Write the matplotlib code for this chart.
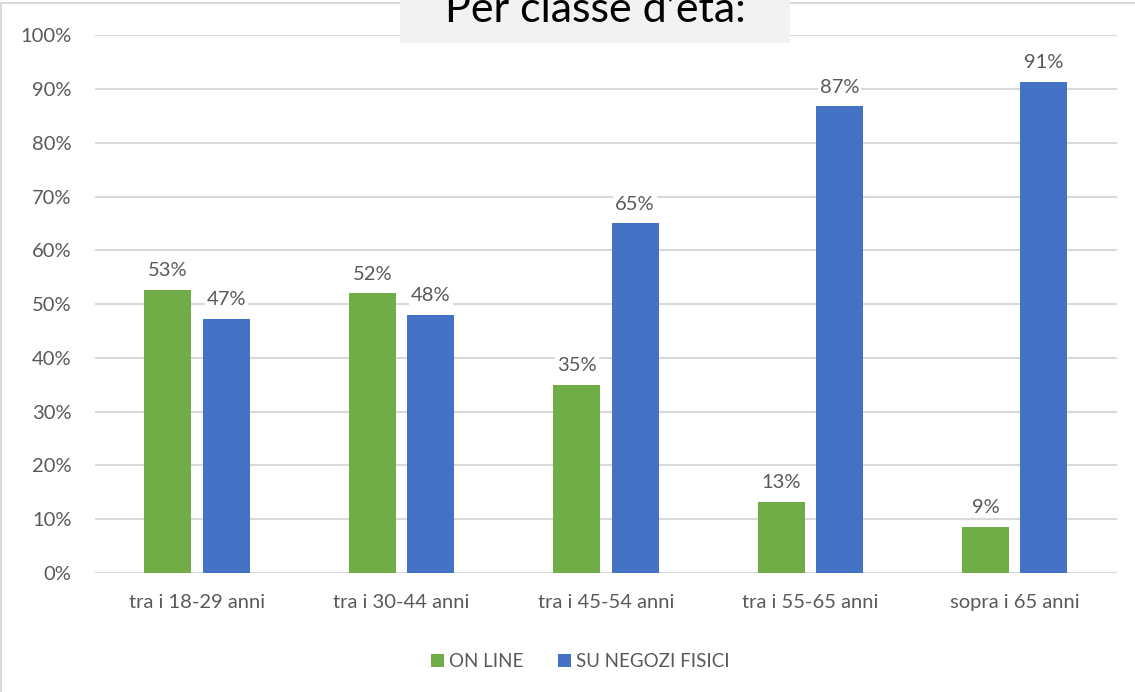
import numpy as np
import matplotlib.pyplot as plt
from matplotlib.patches import Rectangle

plt.rcParams['font.family'] = ['Lato', 'DejaVu Sans']

# dati
categorie = ['tra i 18-29 anni', 'tra i 30-44 anni', 'tra i 45-54 anni',
             'tra i 55-65 anni', 'sopra i 65 anni']
online = [52.7, 52.0, 35.0, 13.2, 8.6]
negozi = [47.3, 48.0, 65.0, 86.8, 91.4]
serie = ['ON LINE', 'SU NEGOZI FISICI']

verde = '#70ad47'
blu = '#4472c4'
grigio = '#595959'

fig = plt.figure(figsize=(11.35, 6.92), dpi=100)
ax = fig.add_axes([0.0837, 0.172, 0.9003, 0.777])

x = np.arange(len(categorie))
w = 0.23
b1 = ax.bar(x - 0.143, online, width=w, color=verde, label=serie[0], zorder=3)
b2 = ax.bar(x + 0.143, negozi, width=w, color=blu, label=serie[1], zorder=3)

# etichette sopra le barre
for bars, vals in [(b1, online), (b2, negozi)]:
    for r, v in zip(bars, vals):
        ax.text(r.get_x() + r.get_width() / 2, v + 2.0, '%d%%' % round(v),
                ha='center', va='bottom', fontsize=14.5, color=grigio, zorder=4,
                bbox=dict(facecolor='white', edgecolor='none', pad=1.5))

ax.set_ylim(0, 100)
ax.set_xlim(-0.5, len(categorie) - 0.5)
ax.set_yticks(np.arange(0, 101, 10))
ax.set_yticklabels(['%d%%' % t for t in range(0, 101, 10)])
ax.set_xticks(x)
ax.set_xticklabels(categorie)
ax.tick_params(axis='both', length=0, labelsize=14.5, labelcolor=grigio)
ax.tick_params(axis='y', pad=17)
ax.tick_params(axis='x', pad=15)
ax.grid(axis='y', color='#d9d9d9', linewidth=1.5, zorder=0)
for s in ax.spines.values():
    s.set_visible(False)

ax.legend(loc='center', bbox_to_anchor=(0.475, -0.165), ncol=2, frameon=False,
          fontsize=13.5, labelcolor=grigio, handlelength=0.7, handleheight=0.7,
          handletextpad=0.3, columnspacing=1.8)

# cornice e riquadro del titolo
fig.patches.append(Rectangle((0.001, -0.1), 1.2, 1.095, transform=fig.transFigure,
                             facecolor='none', edgecolor='#d9d9d9', linewidth=1.5))
fig.patches.append(Rectangle((400 / 1135, 1 - 43 / 692), 390 / 1135, 43 / 692,
                             transform=fig.transFigure, facecolor='#f2f2f2',
                             edgecolor='none', zorder=5))
fig.text(595 / 1135, 1 - 22 / 692, 'Per classe d’età:', ha='center', va='baseline',
         fontsize=31, color='black', zorder=6)

fig.savefig('out.png', dpi=100)
